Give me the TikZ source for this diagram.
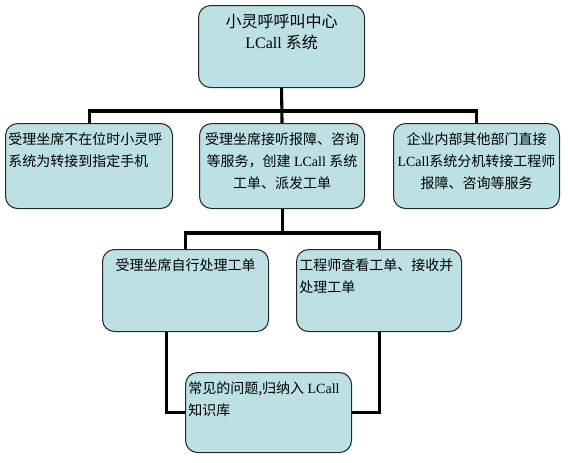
\documentclass[tikz,border=0pt]{standalone}
\usepackage{fontspec}
\setmainfont{Liberation Serif}
\newfontfamily\cjk{Noto Sans CJK SC}
\usetikzlibrary{calc,backgrounds}
\definecolor{boxfill}{RGB}{189,224,228}
\definecolor{boxline}{RGB}{40,40,40}
\tikzset{
  box/.style={draw=boxline, line width=0.8pt, fill=boxfill, rounded corners=9pt,
    minimum width=#1*0.75pt, inner sep=0pt, anchor=north west},
  box/.default=166,
  txt/.style={inner sep=0pt, anchor=north, font=\fontsize{10.5}{16.5}\selectfont},
  conn/.style={line width=2.3pt, black}
}
\begin{document}
\begin{tikzpicture}[x=0.75pt,y=-0.75pt]
\useasboundingbox (0,0) rectangle (568,462);
% boxes
\node[box=166, minimum height=82*0.75pt] (top) at (198,5) {};
\node[box=167, minimum height=85*0.75pt] (L) at (5,123) {};
\node[box=165, minimum height=85*0.75pt] (M) at (199,123) {};
\node[box=166, minimum height=85*0.75pt] (R) at (393,123) {};
\node[box=166, minimum height=82*0.75pt] (BL) at (102,249) {};
\node[box=165, minimum height=82*0.75pt] (BR) at (296,249) {};
\node[box=166, minimum height=80*0.75pt] (D) at (185,372) {};
% texts
\node[txt, align=center, font=\fontsize{12}{15.5}\selectfont] (ttop) at ($(top.north)+(0,9)$) {{\cjk 小灵呼呼叫中心}\\LCall {\cjk 系统}};
\node[txt, align=left, anchor=north west] (tL) at ($(L.north west)+(3,9)$) {{\cjk 受理坐席不在位时小灵呼}\\{\cjk 系统为转接到指定手机}};
\node[txt, align=center] (tM) at ($(M.north)+(0,9)$) {{\cjk 受理坐席接听报障、咨询}\\{\cjk 等服务，创建} LCall {\cjk 系统}\\{\cjk 工单、派发工单}};
\node[txt, align=center] (tR) at ($(R.north)+(0,9)$) {{\cjk 企业内部其他部门直接}\\LCall{\cjk 系统分机转接工程师}\\{\cjk 报障、咨询等服务}};
\node[txt, align=center] (tBL) at ($(BL.north)+(0,9)$) {{\cjk 受理坐席自行处理工单}};
\node[txt, align=left, anchor=north west] (tBR) at ($(BR.north west)+(3,9)$) {{\cjk 工程师查看工单、接收并}\\{\cjk 处理工单}};
\node[txt, align=left, anchor=north west] (tD) at ($(D.north west)+(3,9)$) {{\cjk 常见的问题,归纳入} LCall\\{\cjk 知识库}};
% connectors
\begin{scope}[on background layer]
\draw[conn] (top.south) -- (M.north);
\draw[conn] (L.north) -- (L.north |- 0,111) -| (R.north);
\draw[conn] (M.south) -- (M.south |- 0,233);
\draw[conn] (BL.north) -- (BL.north |- 0,233) -| (BR.north);
\coordinate (blout) at ($(BL.south)+(-19,0)$);
\draw[conn] (D.west) -| (blout);
\draw[conn] (D.east) -| (BR.south);
\end{scope}
\end{tikzpicture}
\end{document}
